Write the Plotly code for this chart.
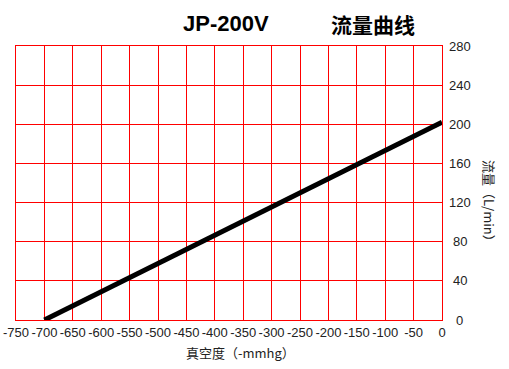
import plotly.graph_objects as go

vacuum = [-700, 0]
flow = [0, 202]
x_ticks = [-750, -700, -650, -600, -550, -500, -450, -400, -350, -300, -250, -200, -150, -100, -50, 0]
y_ticks = [0, 40, 80, 120, 160, 200, 240, 280]

W, H = 509, 369
L, R, T, B = 15.7, 442, 46, 320

def px(x):
    return (x - L) / (R - L)

def py(y):
    return (B - y) / (B - T)

fig = go.Figure()
fig.add_trace(go.Scatter(x=vacuum, y=flow, mode="lines",
                         line=dict(color="black", width=5), showlegend=False,
                         hoverinfo="skip"))

tickfont = dict(family="Liberation Sans, Arial, sans-serif", size=13, color="#222")

fig.update_xaxes(range=[-750, 0], tickvals=x_ticks, ticktext=[str(v) for v in x_ticks],
                 showgrid=True, gridcolor="red", gridwidth=1, zeroline=False,
                 showline=True, linecolor="red", linewidth=1, mirror=True,
                 ticks="", tickfont=tickfont, tickangle=0, automargin=False,
                 ticklabeloverflow="allow")
fig.update_yaxes(range=[0, 280], tickvals=y_ticks, showticklabels=False,
                 showgrid=True, gridcolor="red", gridwidth=1, zeroline=False,
                 showline=True, linecolor="red", linewidth=1, mirror=True, ticks="",
                 automargin=False)

annotations = []
for v in y_ticks:
    annotations.append(dict(x=px(460), y=v, xref="paper", yref="y", text=str(v),
                            showarrow=False, xanchor="center", yanchor="middle",
                            font=tickfont))

annotations += [
    dict(x=px(225.5), y=py(24), xref="paper", yref="paper", text="<b>JP-200V</b>",
         showarrow=False, xanchor="center", yanchor="middle",
         font=dict(family="Liberation Sans, Arial, sans-serif", size=22, color="black")),
    dict(x=px(372.5), y=py(24), xref="paper", yref="paper", text="<b>流量曲线</b>",
         showarrow=False, xanchor="center", yanchor="middle",
         font=dict(family="Noto Sans CJK SC", size=21, color="black")),
    dict(x=px(240), y=py(352), xref="paper", yref="paper", text="真空度（-mmhg）",
         showarrow=False, xanchor="center", yanchor="middle",
         font=dict(family="Noto Sans CJK SC, Liberation Sans", size=13, color="#222")),
    dict(x=px(490), y=py(204), xref="paper", yref="paper", text="流量（L/min）",
         showarrow=False, xanchor="center", yanchor="middle", textangle=90,
         font=dict(family="Noto Sans CJK SC, Liberation Sans", size=13, color="#222")),
]

fig.update_layout(width=W, height=H, margin=dict(l=L, r=W - R, t=T, b=H - B, pad=0),
                  plot_bgcolor="white", paper_bgcolor="white",
                  annotations=annotations)

fig.write_html("out.html", config={"displayModeBar": False},
               post_script="document.body.style.margin='0';")
